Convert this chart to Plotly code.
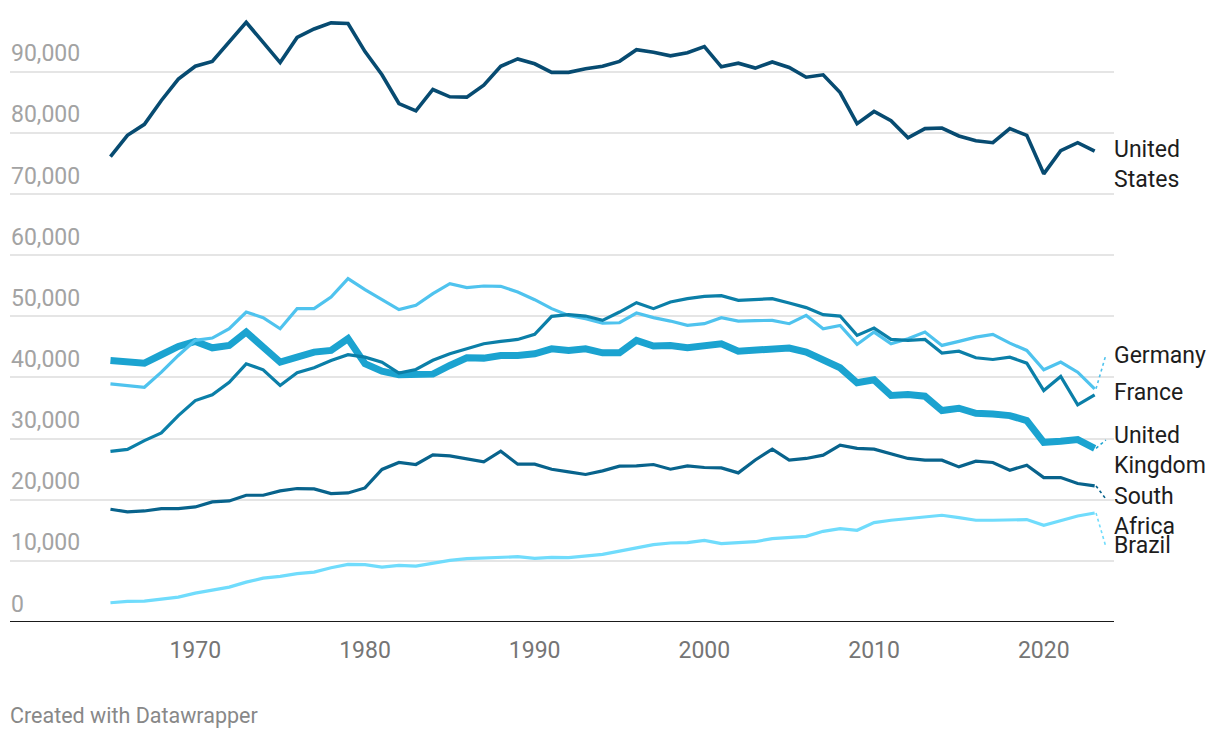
import plotly.graph_objects as go

years = list(range(1965, 2024))

united_states = [76100, 79600, 81400, 85300, 88800, 90900, 91700, 94900, 98100, 94800,
                 91500, 95600, 97000, 98000, 97900, 93300, 89500, 84800, 83600, 87100,
                 85900, 85850, 87800, 90900, 92100, 91300, 89900, 89900, 90500, 90900,
                 91700, 93600, 93200, 92600, 93100, 94100, 90800, 91400, 90600, 91600,
                 90700, 89100, 89500, 86600, 81500, 83500, 82000, 79200, 80700, 80800,
                 79500, 78700, 78400, 80700, 79600, 73300, 77100, 78400, 77000]

germany = [38960, 38730, 38400, 40860, 43600, 46060, 46440, 47970, 50700, 49780,
           47970, 51250, 51250, 53150, 56170, 54360, 52720, 51090, 51790, 53700,
           55350, 54690, 54960, 54910, 53970, 52720, 51250, 50150, 49610, 48890,
           48950, 50530, 49780, 49220, 48510, 48790, 49780, 49220, 49300, 49330,
           48790, 50150, 47970, 48510, 45400, 47420, 45510, 46330, 47420, 45240,
           45890, 46600, 47040, 45610, 44420, 41250, 42500, 40860, 38140]

france = [27910, 28240, 29670, 30920, 33760, 36220, 37150, 39220, 42230, 41250,
          38680, 40760, 41580, 42780, 43710, 43320, 42500, 40700, 41300, 42800,
          43870, 44690, 45510, 45890, 46220, 47040, 49990, 50270, 50040, 49330,
          50700, 52230, 51250, 52340, 52890, 53270, 53380, 52610, 52770, 52890,
          52170, 51420, 50270, 50040, 46880, 48070, 46220, 46060, 46220, 43980,
          44300, 43220, 42940, 43320, 42340, 37860, 40150, 35520, 37150]

united_kingdom = [42780, 42670, 42340, 43710, 45070, 45890, 44850, 45240, 47420, 44960,
                  42500, 43320, 44140, 44420, 46330, 42230, 41030, 40430, 40480, 40540,
                  41960, 43220, 43160, 43600, 43600, 43870, 44690, 44420, 44690, 44030,
                  44030, 46060, 45130, 45240, 44850, 45130, 45510, 44300, 44550, 44690,
                  44800, 44140, 42780, 41580, 39120, 39610, 37040, 37200, 36930, 34580,
                  34960, 34140, 34030, 33760, 32940, 29390, 29550, 29830, 28410]

south_africa = [18440, 18000, 18160, 18550, 18550, 18820, 19640, 19800, 20730, 20730,
                21440, 21830, 21770, 21010, 21110, 21930, 24950, 26090, 25760, 27350,
                27180, 26750, 26190, 27940, 25810, 25810, 24990, 24550, 24130, 24720,
                25490, 25540, 25760, 24990, 25540, 25270, 25210, 24390, 26500, 28270,
                26470, 26750, 27290, 28930, 28390, 28270, 27570, 26750, 26470, 26470,
                25370, 26310, 26090, 24830, 25650, 23630, 23630, 22650, 22260]

brazil = [3150, 3360, 3410, 3800, 4070, 4720, 5160, 5700, 6520, 7180,
          7450, 7900, 8160, 8880, 9420, 9370, 8980, 9260, 9150, 9670,
          10080, 10360, 10460, 10570, 10680, 10410, 10570, 10520, 10780, 11060,
          11600, 12160, 12650, 12920, 12980, 13360, 12820, 12980, 13130, 13640,
          13800, 14010, 14830, 15280, 15000, 16260, 16640, 16910, 17180, 17460,
          17080, 16640, 16640, 16640, 16750, 15820, 16640, 17340, 17830]

series_names = ["Brazil", "United Kingdom", "Germany", "South Africa", "France", "United States"]
series_values = [brazil, united_kingdom, germany, south_africa, france, united_states]
series_labels = ["Brazil", "United<br>Kingdom", "Germany", "South<br>Africa", "France", "United<br>States"]
# label centre and connector target (value units) for each series; None = no connector
label_y = [12590, 27970, 43670, 18070, 37620, 74900]
connector_y = [12320, 29770, 43670, 20120, None, None]

colors = ["#70dcfc", "#1ba3d0", "#4fc3ee", "#08638c", "#0b7fa8", "#074b71"]
widths = [3.2, 7, 3.2, 3.2, 3.2, 3.6]

y_ticks = [0, 10000, 20000, 30000, 40000, 50000, 60000, 70000, 80000, 90000]
y_tick_labels = ["0", "10,000", "20,000", "30,000", "40,000", "50,000",
                 "60,000", "70,000", "80,000", "90,000"]
x_ticks = [1970, 1980, 1990, 2000, 2010, 2020]
x_tick_labels = ["1970", "1980", "1990", "2000", "2010", "2020"]

FONT = "Roboto, 'Noto Sans', sans-serif"

fig = go.Figure()
for name, vals, col, w in zip(series_names, series_values, colors, widths):
    fig.add_trace(go.Scatter(x=years, y=vals, mode="lines", name=name,
                             line=dict(color=col, width=w, shape="linear"),
                             hoverinfo="x+y+name"))

annotations = []
shapes = []
last_year = years[-1]
for vals, lab, ly, cy, col in zip(series_values, series_labels, label_y, connector_y, colors):
    annotations.append(dict(x=1, xref="paper", y=ly, yref="y", text=lab,
                            xanchor="left", yanchor="middle", showarrow=False, xshift=-2,
                            align="left", font=dict(family=FONT, size=23, color="#1d1d1d")))
    if cy is not None:
        shapes.append(dict(type="line", xref="x", yref="y",
                           x0=last_year + 0.08, y0=vals[-1], x1=last_year + 0.66, y1=cy,
                           line=dict(color=col, width=1.6, dash="dot"), layer="above"))

for v, t in zip(y_ticks, y_tick_labels):
    annotations.append(dict(x=0, xref="paper", y=v, yref="y", text=t,
                            xanchor="left", yanchor="middle", yshift=18, xshift=-1,
                            showarrow=False,
                            font=dict(family=FONT, size=23, color="#a3a3a3")))

annotations.append(dict(x=0, xref="paper", y=-0.153, yref="paper", text="Created with Datawrapper",
                        xanchor="left", yanchor="middle", showarrow=False, xshift=-2,
                        font=dict(family=FONT, size=21.5, color="#888888")))

shapes.append(dict(type="line", xref="paper", yref="y", x0=0, x1=1, y0=0, y1=0,
                   line=dict(color="#1a1a1a", width=2), layer="above"))

fig.update_layout(
    width=1204, height=722,
    margin=dict(l=2, r=98, t=2, b=108),
    paper_bgcolor="white", plot_bgcolor="white",
    showlegend=False,
    font=dict(family=FONT),
    xaxis=dict(range=[1959.08, 2024.14], showgrid=False, zeroline=False, showline=False,
               tickmode="array", tickvals=x_ticks, ticktext=x_tick_labels,
               ticks="", ticklabelstandoff=12,
               tickfont=dict(family=FONT, size=23, color="#757575")),
    yaxis=dict(range=[0, 100100], showgrid=True, gridcolor="#e5e5e5", gridwidth=1.6,
               zeroline=False, showline=False, tickmode="array", tickvals=y_ticks,
               showticklabels=False, ticks=""),
    annotations=annotations,
    shapes=shapes,
)

fig.write_html("out.html")
